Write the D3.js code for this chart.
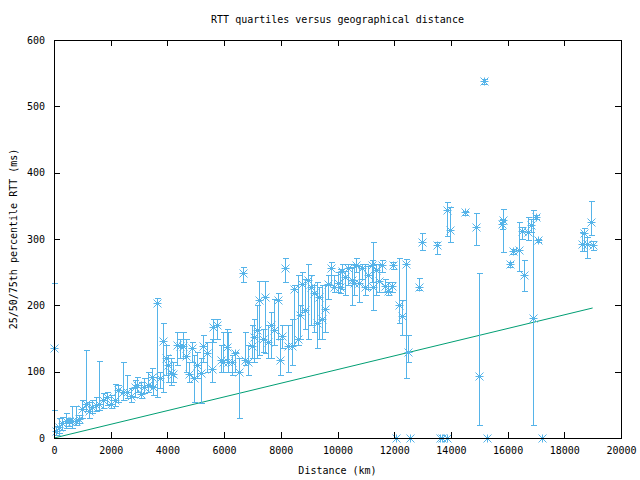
<!DOCTYPE html>
<html><head><meta charset="utf-8">
<script src="https://cdn.jsdelivr.net/npm/d3@7/dist/d3.min.js"></script>
<style>
html,body{margin:0;padding:0;background:#fff;}
text{font-family:"DejaVu Sans Mono",monospace;font-size:10px;fill:#000;}
</style></head><body>
<svg id="chart" width="640" height="480"></svg>
<script>
// distance (km), median RTT, 25th and 75th percentile (ms)
const dist = [0,60,176,293,410,530,645,765,880,1000,1140,1235,1350,1470,1590,1740,1880,2000,2140,2260,2435,2560,2705,2845,2940,3060,3175,3315,3470,3500,3645,3740,3855,3950,4030,4115,4210,4350,4445,4560,4655,4775,4855,4940,5055,5175,5265,5410,5560,5620,5740,5880,5975,6090,6150,6270,6385,6535,6680,6740,6855,6975,7055,7170,7240,7385,7440,7560,7655,7770,7890,7985,8055,8150,8265,8385,8475,8595,8690,8760,8855,8970,9065,9180,9280,9350,9465,9560,9675,9770,9865,10010,10090,10170,10265,10380,10500,10595,10650,10760,10875,10970,11090,11205,11265,11360,11475,11585,11675,11795,11910,11970,12180,12290,12405,12500,12890,12995,13500,13875,13970,14500,14885,15000,15180,15815,15850,16085,16200,16415,16500,16590,16710,16815,16910,17000,17085,18610,18690,18810,18930,19025,12065,12560,13615,13700,13850,15285,17200];
const med  = [135,10,17,22,25,26,25,26,28,44,52,40,47,50,52,57,62,52,57,72,70,70,63,77,80,67,77,80,92,77,204,90,146,120,110,98,97,140,138,138,124,96,135,90,110,98,138,128,104,168,170,118,115,137,115,115,128,100,248,118,115,138,152,163,208,149,212,145,170,163,208,118,154,256,139,139,224,150,186,232,193,238,227,218,173,212,180,194,232,257,228,233,227,252,242,256,238,233,261,233,257,227,246,261,227,254,236,261,229,221,229,261,200,184,263,129,228,295,291,344,314,340,318,93,538,322,329,262,282,283,312,245,310,321,181,333,298,293,309,292,325,291,0,0,0,0,0,0,0];
const lo   = [42,5,8,12,15,18,15,20,22,30,40,30,38,40,42,45,50,45,48,55,58,60,55,62,70,60,68,70,78,65,62,75,70,95,85,80,85,110,120,120,100,85,115,55,90,53,115,100,85,145,150,100,100,115,100,95,100,30,235,110,95,120,115,120,125,130,128,120,120,140,150,95,135,235,100,110,140,140,150,190,165,150,170,160,135,150,150,160,210,230,220,220,218,225,215,230,200,215,250,205,240,215,225,235,193,215,220,250,220,215,220,255,173,155,90,114,223,284,277,305,295,336,291,20,533,315,281,258,278,252,300,222,298,310,20,330,295,282,282,272,306,283,0,0,0,0,0,0,0];
const hi   = [234,18,30,32,38,30,48,48,35,58,132,55,58,62,116,68,70,65,82,80,115,95,75,88,92,85,90,100,105,92,211,100,173,140,125,120,115,160,150,160,150,115,145,125,130,120,155,145,150,180,180,140,160,165,160,125,130,120,258,160,140,170,180,200,236,165,236,170,190,210,218,150,170,272,170,180,230,245,200,250,240,262,245,230,235,228,230,230,245,265,245,250,255,262,252,262,258,262,272,260,262,262,260,268,295,262,262,268,240,235,235,266,272,208,270,156,241,309,296,356,348,342,339,248,541,330,345,265,285,326,318,268,333,330,344,336,300,311,317,303,358,297,0,0,0,0,0,0,0];
// theoretical minimum RTT line
const lineDist = [0, 19000];
const lineRtt  = [0, 196];
const xTicks = [0,2000,4000,6000,8000,10000,12000,14000,16000,18000,20000];
const yTicks = [0,100,200,300,400,500,600];

const svg = d3.select("#chart");
const L = 54, R = 621, T = 40, B = 438;
const x = d3.scaleLinear().domain([0,20000]).range([L,R]);
const y = d3.scaleLinear().domain([0,600]).range([B,T]);
const blue = "#56b4e9", green = "#009e73";

// green line
const lineData = lineDist.map((d,i)=>[d,lineRtt[i]]);
svg.append("path").datum(lineData)
  .attr("d", d3.line().x(d=>x(d[0])).y(d=>y(d[1])))
  .attr("stroke",green).attr("stroke-width",1).attr("fill","none");

// error bars
const pts = dist.map((d,i)=>({d, m:med[i], lo:lo[i], hi:hi[i]}));
const eb = svg.append("g").attr("stroke",blue).attr("stroke-width",1).attr("shape-rendering","crispEdges");
pts.filter(p=>p.hi>p.lo).forEach(p=>{
  const cx = Math.round(x(p.d))+0.5;
  eb.append("line").attr("x1",cx).attr("x2",cx).attr("y1",y(p.lo)).attr("y2",y(p.hi));
  eb.append("line").attr("x1",cx-3).attr("x2",cx+3).attr("y1",Math.round(y(p.lo))+0.5).attr("y2",Math.round(y(p.lo))+0.5);
  eb.append("line").attr("x1",cx-3).attr("x2",cx+3).attr("y1",Math.round(y(p.hi))+0.5).attr("y2",Math.round(y(p.hi))+0.5);
});
// star points
const st = svg.append("g").attr("stroke",blue).attr("stroke-width",1).attr("fill","none");
pts.forEach(p=>{
  const cx = Math.round(x(p.d))+0.5, cy = Math.round(y(p.m))+0.5, r=4;
  st.append("path").attr("d",`M${cx-r},${cy}H${cx+r}M${cx},${cy-r}V${cy+r}M${cx-r},${cy-r}L${cx+r},${cy+r}M${cx-r},${cy+r}L${cx+r},${cy-r}`);
});

// axes (gnuplot style with mirrored inward ticks), drawn on top
const axB = svg.append("g").attr("transform",`translate(0,${B})`)
  .call(d3.axisBottom(x).tickValues(xTicks).tickSizeInner(-6).tickSizeOuter(0).tickPadding(9).tickFormat(d3.format("d")));
const axT = svg.append("g").attr("transform",`translate(0,${T})`)
  .call(d3.axisTop(x).tickValues(xTicks).tickSizeInner(-6).tickSizeOuter(0).tickFormat(""));
const axL = svg.append("g").attr("transform",`translate(${L},0)`)
  .call(d3.axisLeft(y).tickValues(yTicks).tickSizeInner(-6).tickSizeOuter(0).tickPadding(9).tickFormat(d3.format("d")));
const axR = svg.append("g").attr("transform",`translate(${R},0)`)
  .call(d3.axisRight(y).tickValues(yTicks).tickSizeInner(-6).tickSizeOuter(0).tickFormat(""));
svg.selectAll(".domain").remove();
svg.selectAll(".tick line").attr("stroke","#000").attr("shape-rendering","crispEdges");
svg.selectAll(".tick text").style("font-family","DejaVu Sans Mono, monospace").style("font-size","10px");
axB.selectAll(".tick text").attr("dy","0.71em");
svg.append("rect").attr("x",L+0.5).attr("y",T+0.5).attr("width",R-L).attr("height",B-T)
  .attr("fill","none").attr("stroke","#000").attr("shape-rendering","crispEdges");

// titles
svg.append("text").attr("x",(L+R)/2).attr("y",23).attr("text-anchor","middle").text("RTT quartiles versus geographical distance");
svg.append("text").attr("x",(L+R)/2).attr("y",474).attr("text-anchor","middle").text("Distance (km)");
svg.append("text").attr("transform",`translate(17,${(T+B)/2}) rotate(-90)`).attr("text-anchor","middle").text("25/50/75th percentile RTT (ms)");
</script></body></html>
